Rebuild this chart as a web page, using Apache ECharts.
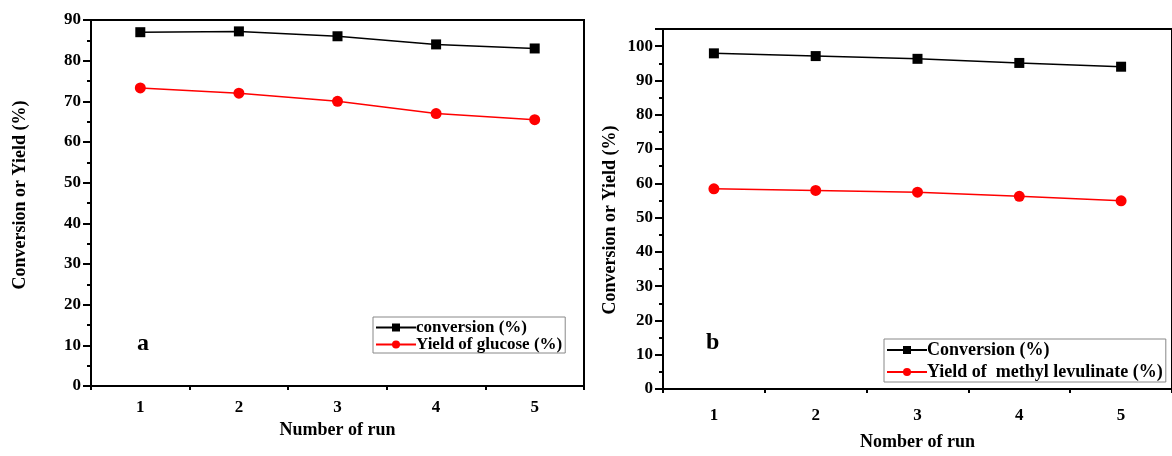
<!DOCTYPE html>
<html><head><meta charset="utf-8">
<script src="https://cdn.jsdelivr.net/npm/echarts@6/dist/echarts.min.js"></script>
<style>html,body{margin:0;padding:0;background:#fff;}#c{width:1172px;height:456px;}</style>
</head><body><div id="c"></div>
<script>
const runs = ['1', '2', '3', '4', '5'];
const convA = [87.0, 87.2, 86.0, 84.0, 83.0];
const yieldA = [73.3, 72.0, 70.0, 67.0, 65.5];
const convB = [97.9, 97.1, 96.3, 95.1, 94.0];
const yieldB = [58.4, 57.9, 57.4, 56.2, 54.9];
const nameConvA = 'conversion (%)';
const nameYieldA = 'Yield of glucose (%)';
const nameConvB = 'Conversion (%)';
const nameYieldB = 'Yield of  methyl levulinate (%)';

const FONT = '"Liberation Serif", "Times New Roman", serif';
const bold = (s) => ({ fontFamily: FONT, fontWeight: 'bold', fontSize: s, color: '#000' });

function catAxis(gi, name, gap, margin) {
  return {
    type: 'category', gridIndex: gi, data: runs, boundaryGap: true,
    name: name, nameLocation: 'middle', nameGap: gap, nameTextStyle: bold(18),
    axisLine: { lineStyle: { color: '#000', width: 2 } },
    axisTick: { alignWithLabel: true, length: 7, lineStyle: { color: '#000', width: 2 } },
    axisLabel: Object.assign(bold(17), { margin: margin }),
    splitLine: { show: false }
  };
}
function minorXAxis(gi) {
  return {
    type: 'value', gridIndex: gi, min: 0, max: 5, interval: 1, position: 'bottom',
    axisLine: { show: false },
    axisTick: { show: true, length: 4, lineStyle: { color: '#000', width: 2 } },
    axisLabel: { show: false }, splitLine: { show: false }
  };
}
function yAxis(gi, max, gap, namePad) {
  return {
    type: 'value', gridIndex: gi, min: 0, max: max, interval: 10,
    name: 'Conversion or Yield (%)', nameLocation: 'middle', nameGap: gap,
    nameTextStyle: Object.assign(bold(18), { padding: namePad }),
    axisLine: { show: true, lineStyle: { color: '#000', width: 2 } },
    axisTick: { show: true, length: 8, lineStyle: { color: '#000', width: 2 } },
    minorTick: { show: true, splitNumber: 2, length: 4, lineStyle: { color: '#000', width: 2 } },
    axisLabel: Object.assign(bold(17), { margin: 10, formatter: v => (v % 10 === 0 ? String(v) : '') }),
    splitLine: { show: false }
  };
}
function lineSeries(name, data, gi, color, symbol, size) {
  return {
    type: 'line', name: name, data: data, xAxisIndex: gi * 2, yAxisIndex: gi,
    symbol: symbol, symbolSize: size, color: color,
    lineStyle: { color: color, width: 1.5 }, itemStyle: { color: color },
    emphasis: { disabled: true }, animation: false
  };
}
function legend(left, top, names, fs, gap, lh, pad) {
  return {
    left: left, top: top, orient: 'vertical', data: names,
    itemWidth: 40, itemHeight: 10, itemGap: gap,
    padding: pad,
    borderColor: '#888', borderWidth: 1,
    textStyle: Object.assign(bold(fs), { lineHeight: lh, padding: [0, 0, 0, -5] }),
    selectedMode: false
  };
}

const chart = echarts.init(document.getElementById('c'), null, { renderer: 'canvas' });
chart.setOption({
  backgroundColor: '#fff',
  animation: false,
  grid: [
    { left: 91, top: 20, width: 493, height: 366, show: true, borderColor: '#000', borderWidth: 2, backgroundColor: 'transparent' },
    { left: 663, top: 29, width: 519, height: 364, show: true, borderColor: '#000', borderWidth: 2, backgroundColor: 'transparent' }
  ],
  xAxis: [catAxis(0, 'Number of run', 34, 13), minorXAxis(0), catAxis(1, 'Nomber of run', 44, 18), minorXAxis(1)],
  yAxis: [yAxis(0, 90, 62, [0, 0, 0, 16]), yAxis(1, 105, 44, [0, 22, 0, 0])],
  legend: [
    legend(373, 317, [nameConvA, nameYieldA], 17, 0, 17, [2, 3, 0, 2]),
    legend(884, 339, [nameConvB, nameYieldB], 18, 4, 18, [2, 3, 1, 2])
  ],
  graphic: [
    { type: 'text', left: 137, top: 332, style: { text: 'a', font: 'bold 24px ' + FONT, fill: '#000' } },
    { type: 'text', left: 706, top: 331, style: { text: 'b', font: 'bold 24px ' + FONT, fill: '#000' } }
  ],
  series: [
    lineSeries(nameConvA, convA, 0, '#000000', 'rect', 10),
    lineSeries(nameYieldA, yieldA, 0, '#ff0000', 'circle', 11),
    lineSeries(nameConvB, convB, 1, '#000000', 'rect', 10),
    lineSeries(nameYieldB, yieldB, 1, '#ff0000', 'circle', 11)
  ]
});
</script></body></html>
